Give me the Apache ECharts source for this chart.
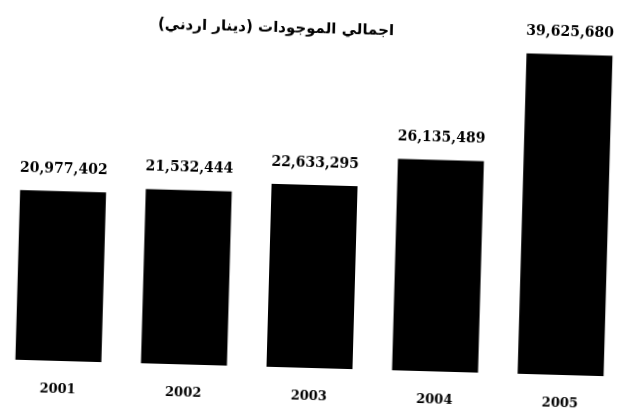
<!DOCTYPE html>
<html lang="ar">
<head>
    <meta charset="UTF-8">
    <title>اجمالي الموجودات</title>
    <script type="text/javascript" src="https://cdn.jsdelivr.net/npm/echarts@6/dist/echarts.min.js"></script>
    <style>
        html, body {
            margin: 0;
            padding: 0;
            background: #fff;
        }
        #main {
            width: 628px;
            height: 412px;
            /* the scanned page is slightly tilted */
            transform: rotate(1.6deg);
        }
    </style>
</head>
<body>
<div id="main"></div>
<script>
    // data
    var years = ['2001', '2002', '2003', '2004', '2005'];
    var assets = [20977402, 21532444, 22633295, 26135489, 39625680];
    var titleText = 'اجمالي الموجودات (دينار اردني)';

    var myChart = echarts.init(document.getElementById('main'));
    var option = {
        animation: false,
        backgroundColor: '#fff',
        title: {
            text: titleText,
            left: 266,
            top: 17,
            textAlign: 'center',
            textStyle: {
                fontFamily: 'DejaVu Sans',
                fontWeight: 'bold',
                fontSize: 15,
                color: '#000'
            }
        },
        grid: {               // bars run close to the left/right edges
            left: -10,
            width: 653,
            top: 4,
            bottom: 44
        },
        xAxis: {
            type: 'category',
            data: years,
            axisLine: {show: false},
            axisTick: {show: false},
            axisLabel: {
                margin: 22,
                fontFamily: 'DejaVu Serif',
                fontWeight: 'bold',
                fontSize: 13,
                color: '#000'
            }
        },
        yAxis: {
            type: 'value',
            min: 0,
            max: 45000000,
            show: false
        },
        series: [{
            type: 'bar',
            data: assets,
            barWidth: 86,
            itemStyle: {color: '#000'},
            label: {
                show: true,
                position: 'top',
                distance: 15,
                fontFamily: 'DejaVu Serif',
                fontWeight: 'bold',
                fontSize: 14,
                color: '#000',
                formatter: function (p) {
                    return p.value.toLocaleString('en-US');
                }
            }
        }]
    };
    myChart.setOption(option);
</script>
</body>
</html>
